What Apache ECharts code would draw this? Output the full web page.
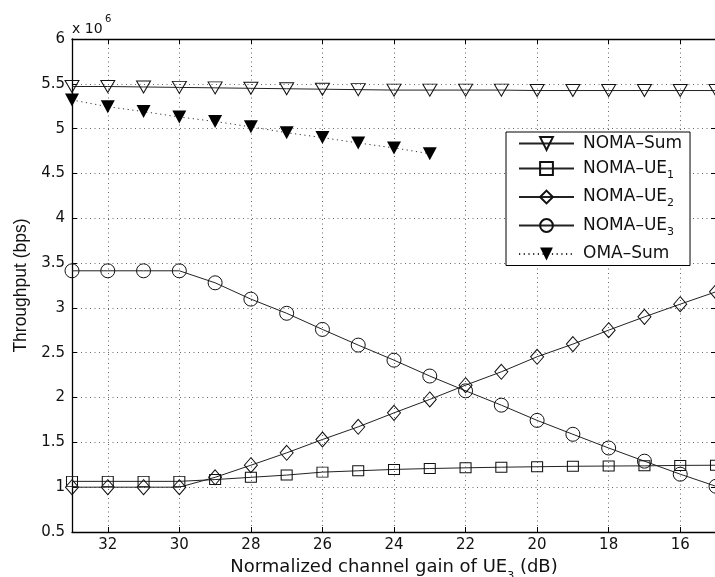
<!DOCTYPE html>
<html>
<head>
<meta charset="utf-8">
<script src="https://cdn.jsdelivr.net/npm/echarts@6/dist/echarts.min.js"></script>
<style>
html,body{margin:0;padding:0;background:#fff;}
#chart{width:715px;height:577px;}
</style>
</head>
<body>
<div id="chart"></div>
<script>
// Normalized channel gain of UE3 (dB)
const gains = [33, 32, 31, 30, 29, 28, 27, 26, 25, 24, 23, 22, 21, 20, 19, 18, 17, 16, 15];
// Throughput in units of 10^6 bps
const nomaSum = [5.47, 5.47, 5.465, 5.46, 5.455, 5.45, 5.445, 5.44, 5.435, 5.43, 5.43, 5.43, 5.43, 5.425, 5.425, 5.425, 5.425, 5.425, 5.425];
const nomaUE1 = [1.065, 1.065, 1.065, 1.065, 1.085, 1.11, 1.135, 1.168, 1.183, 1.198, 1.208, 1.216, 1.223, 1.228, 1.233, 1.236, 1.238, 1.243, 1.245];
const nomaUE2 = [1.0, 1.0, 1.0, 1.0, 1.11, 1.245, 1.383, 1.532, 1.673, 1.829, 1.979, 2.138, 2.287, 2.455, 2.596, 2.752, 2.90, 3.042, 3.18];
const nomaUE3 = [3.414, 3.414, 3.414, 3.414, 3.28, 3.098, 2.94, 2.76, 2.585, 2.417, 2.24, 2.075, 1.915, 1.745, 1.59, 1.437, 1.29, 1.145, 1.01];
const omaSum = [5.32, 5.245, 5.19, 5.13, 5.08, 5.02, 4.955, 4.90, 4.84, 4.785, 4.72];
const xTicks = [32, 30, 28, 26, 24, 22, 20, 18, 16];
const seriesNames = ['NOMA–Sum', 'NOMA–UE1', 'NOMA–UE2', 'NOMA–UE3', 'OMA–Sum'];

function pairs(vals) { return vals.map((v, i) => [gains[i], v]); }

const FONT = 'DejaVu Sans';
const chart = echarts.init(document.getElementById('chart'), null, {renderer: 'canvas'});

const openMarker = {color: 'rgba(0,0,0,0)', borderColor: '#111', borderWidth: 1};
const lineBase = {color: '#222', width: 1};

const option = {
  animation: false,
  backgroundColor: '#fff',
  grid: {left: 72, top: 39, width: 644, height: 493, containLabel: false, outerBoundsMode: 'none'},
  xAxis: [{
    type: 'value', min: 15, max: 33, inverse: true,
    name: 'Normalized channel gain of UE{s|3} (dB)',
    nameLocation: 'middle', nameGap: 24,
    nameTextStyle: {fontFamily: FONT, fontSize: 18, color: '#111',
      rich: {s: {fontFamily: FONT, fontSize: 11, lineHeight: 11, verticalAlign: 'bottom', padding: [0, 0, -6, 0]}}},
    axisLine: {show: true, lineStyle: {color: '#000', width: 1.3}},
    axisTick: {show: true, inside: true, length: 5, customValues: xTicks, lineStyle: {color: '#000'}},
    axisLabel: {show: true, customValues: xTicks, margin: 6, fontFamily: FONT, fontSize: 15, color: '#111'},
    splitLine: {show: true, lineStyle: {color: '#666', width: 1, type: [1, 3.5]}}
  }, {
    type: 'value', min: 15, max: 33, inverse: true, position: 'top',
    axisLine: {show: true, lineStyle: {color: '#000', width: 1.3}},
    axisTick: {show: true, inside: true, length: 5, customValues: xTicks, lineStyle: {color: '#000'}},
    axisLabel: {show: false},
    splitLine: {show: false}
  }],
  yAxis: [{
    type: 'value', min: 0.5, max: 6, interval: 0.5,
    name: 'Throughput (bps)', nameLocation: 'middle', nameGap: 40,
    nameTextStyle: {fontFamily: 'Liberation Sans', fontSize: 17.5, color: '#111'},
    axisLine: {show: true, lineStyle: {color: '#000', width: 1.3}},
    axisTick: {show: true, inside: true, length: 5, lineStyle: {color: '#000'}},
    axisLabel: {margin: 7, fontFamily: FONT, fontSize: 15, color: '#111'},
    splitLine: {show: true, lineStyle: {color: '#666', width: 1, type: [1, 3.5]}}
  }, {
    type: 'value', min: 0.5, max: 6, interval: 0.5, position: 'right',
    axisLine: {show: true, lineStyle: {color: '#000', width: 1.3}},
    axisTick: {show: true, inside: true, length: 5, lineStyle: {color: '#000'}},
    axisLabel: {show: false},
    splitLine: {show: false}
  }],
  legend: {
    orient: 'vertical', left: 506, top: 132,
    padding: [3, 8, 3, 12], itemGap: 8, itemWidth: 55, itemHeight: 16,
    backgroundColor: '#fff', borderColor: '#000', borderWidth: 1,
    data: seriesNames,
    formatter: function (name) {
      const m = name.match(/^(.*UE)(\d)$/);
      if (m) return '{f|' + m[1] + '}{s|' + m[2] + '}';
      return '{f|' + name + '}';
    },
    textStyle: {
      fontFamily: FONT, fontSize: 17, color: '#111',
      rich: {
        f: {fontFamily: FONT, fontSize: 17, lineHeight: 24, padding: [0, 0, 0, 4]},
        s: {fontFamily: FONT, fontSize: 11, lineHeight: 11, verticalAlign: 'bottom'}
      }
    }
  },
  graphic: [
    {type: 'text', x: 72, y: 29, style: {text: 'x 10', fontFamily: FONT, fontSize: 14, fill: '#111', verticalAlign: 'middle'}},
    {type: 'text', x: 105, y: 19, style: {text: '6', fontFamily: FONT, fontSize: 10, fill: '#111', verticalAlign: 'middle'}}
  ],
  series: [
    {name: seriesNames[0], type: 'line', data: pairs(nomaSum), symbol: 'triangle', symbolRotate: 180, symbolSize: [14, 12],
     itemStyle: openMarker, lineStyle: lineBase, z: 3},
    {name: seriesNames[1], type: 'line', data: pairs(nomaUE1), symbol: 'rect', symbolSize: [11, 10],
     itemStyle: openMarker, lineStyle: lineBase, z: 3},
    {name: seriesNames[2], type: 'line', data: pairs(nomaUE2), symbol: 'diamond', symbolSize: [13, 15],
     itemStyle: openMarker, lineStyle: lineBase, z: 3},
    {name: seriesNames[3], type: 'line', data: pairs(nomaUE3), symbol: 'circle', symbolSize: 14,
     itemStyle: openMarker, lineStyle: lineBase, z: 3},
    {name: seriesNames[4], type: 'line', data: pairs(omaSum), symbol: 'triangle', symbolRotate: 180, symbolSize: [14, 13],
     itemStyle: {color: '#000', borderColor: '#000', borderWidth: 0}, lineStyle: {color: '#333', width: 1, type: [1.2, 3.5]}, z: 3}
  ]
};
chart.setOption(option);
</script>
</body>
</html>
